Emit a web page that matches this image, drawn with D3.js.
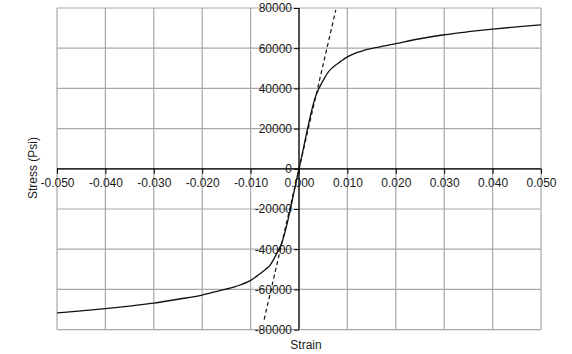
<!DOCTYPE html>
<html><head><meta charset="utf-8">
<script src="https://cdn.jsdelivr.net/npm/d3@7"></script>
<style>html,body{margin:0;padding:0;background:#fff;}svg{display:block;}</style>
</head><body>
<svg id="c" width="572" height="354"></svg>
<script>
const xTicks = [-0.05,-0.04,-0.03,-0.02,-0.01,0,0.01,0.02,0.03,0.04,0.05];
const xTickLabels = ["-0.050","-0.040","-0.030","-0.020","-0.010","0.000","0.010","0.020","0.030","0.040","0.050"];
const yTicks = [80000,60000,40000,20000,0,-20000,-40000,-60000,-80000];
const yTickLabels = ["80000","60000","40000","20000","0","-20000","-40000","-60000","-80000"];

// Solid stress-strain curve
const curveStrain = [-0.0500,-0.0450,-0.0400,-0.0350,-0.0300,-0.0250,-0.0200,-0.0167,-0.0130,-0.0100,-0.0085,-0.0070,-0.0060,-0.0050,-0.0035,0,
                     0.0035,0.0050,0.0060,0.0070,0.0085,0.0100,0.0130,0.0167,0.0200,0.0250,0.0300,0.0350,0.0400,0.0450,0.0500];
const curveStress = [-71700,-70700,-69600,-68300,-66800,-64900,-62800,-60800,-58500,-55500,-53000,-50200,-48000,-44000,-36500,0,
                     36500,44000,48000,50500,53200,55700,58600,60700,62300,64700,66700,68200,69500,70600,71600];
// Dashed elastic line
const elasticStrain = [-0.0072, 0.0076];
const elasticStress = [-75000, 79000];

const svg = d3.select("#c");
const L = 57, R = 541, T = 8, B = 329.6;
const x = d3.scaleLinear().domain([-0.05,0.05]).range([L,R]);
const y = d3.scaleLinear().domain([-80000,80000]).range([B,T]);
const font = "'Liberation Sans', Arial, sans-serif";

// gridlines
const g = svg.append("g");
g.selectAll("line.vx").data(xTicks).join("line")
  .attr("x1", d=>x(d)).attr("x2", d=>x(d)).attr("y1", T).attr("y2", B)
  .attr("stroke", "#a8a8a8").attr("stroke-width", 1.2);
g.selectAll("line.hy").data(yTicks).join("line")
  .attr("y1", d=>y(d)).attr("y2", d=>y(d)).attr("x1", L).attr("x2", R)
  .attr("stroke", "#a8a8a8").attr("stroke-width", 1.2);

// axes through origin
const x0 = x(0), y0 = y(0);
const xAxis = d3.axisBottom(x).tickValues(xTicks).tickFormat((d,i)=>xTickLabels[i]).tickSize(5).tickPadding(5);
const yAxis = d3.axisLeft(y).tickValues(yTicks).tickFormat((d,i)=>yTickLabels[i]).tickSize(5).tickPadding(2);

const gx = svg.append("g").attr("transform", `translate(0,${y0})`).call(xAxis);
gx.select(".domain").attr("d", `M${L},0H${R}`).attr("stroke", "#000").attr("stroke-width", 1.2);
gx.selectAll(".tick line").attr("stroke", "#000");
gx.selectAll(".tick text").attr("font-family", font).attr("font-size", 12).attr("fill", "#1a1a1a");

const gy = svg.append("g").attr("transform", `translate(${x0},0)`).call(yAxis);
gy.select(".domain").attr("d", `M0,${T}V${B}`).attr("stroke", "#000").attr("stroke-width", 1.2);
gy.selectAll(".tick line").attr("stroke", "#000");
gy.selectAll(".tick text").attr("font-family", font).attr("font-size", 12).attr("fill", "#1a1a1a");

// lines
const line = d3.line().x(d=>x(d[0])).y(d=>y(d[1])).curve(d3.curveMonotoneX);
svg.append("path").datum(curveStrain.map((s,i)=>[s,curveStress[i]]))
  .attr("d", line).attr("fill","none").attr("stroke","#111").attr("stroke-width",1.3);
svg.append("path").datum(elasticStrain.map((s,i)=>[s,elasticStress[i]]))
  .attr("d", d3.line().x(d=>x(d[0])).y(d=>y(d[1]))).attr("fill","none")
  .attr("stroke","#111").attr("stroke-width",1.2).attr("stroke-dasharray","4,3");

// titles
svg.append("text").attr("x", 306).attr("y", 349).attr("text-anchor","middle")
  .attr("font-family", font).attr("font-size", 12).attr("fill","#1a1a1a").text("Strain");
svg.append("text").attr("transform","translate(37,168) rotate(-90)").attr("text-anchor","middle")
  .attr("font-family", font).attr("font-size", 12).attr("fill","#1a1a1a").text("Stress (Psi)");
</script>
</body></html>
